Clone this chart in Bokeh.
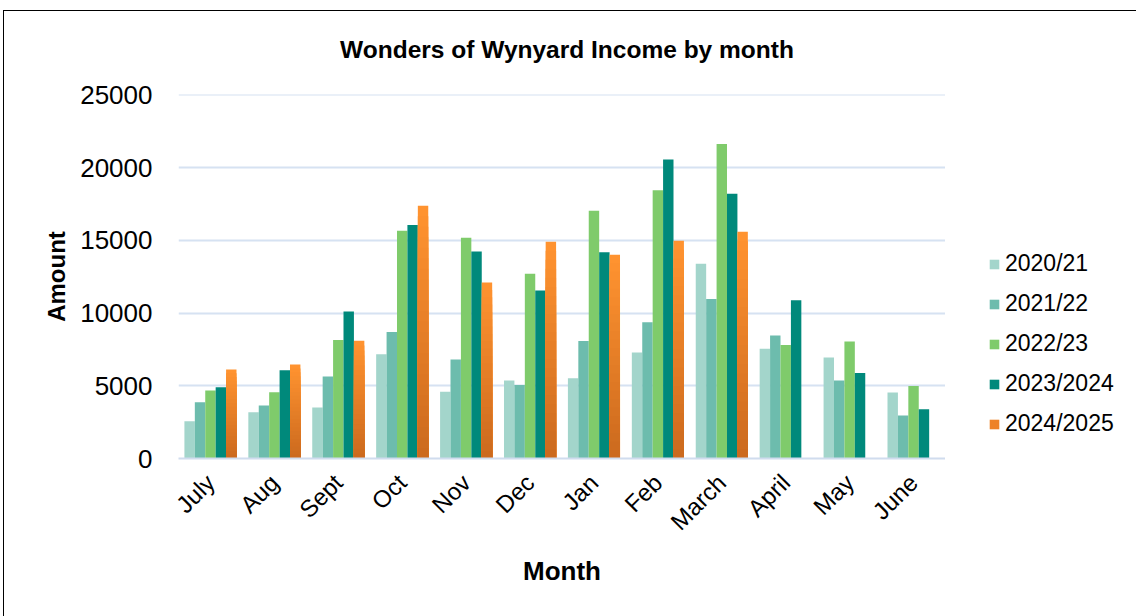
from bokeh.plotting import figure
from bokeh.models import (FactorRange, Range1d, ColumnDataSource, FixedTicker,
                          Legend, LegendItem)
from bokeh.layouts import column, row
from bokeh.transform import dodge
from bokeh.embed import file_html
from bokeh.resources import INLINE
from math import pi

months = ["July", "Aug", "Sept", "Oct", "Nov", "Dec", "Jan", "Feb", "March", "April", "May", "June"]
series_names = ["2020/21", "2021/22", "2022/23", "2023/2024", "2024/2025"]
s2020 = [2560, 3180, 3500, 7160, 4580, 5360, 5520, 7280, 13390, 7550, 6940, 4530]
s2021 = [3870, 3640, 5630, 8700, 6800, 5060, 8080, 9360, 10970, 8450, 5360, 2950]
s2022 = [4670, 4550, 8150, 15660, 15180, 12700, 17030, 18430, 21610, 7810, 8040, 4990]
s2023 = [4900, 6060, 10100, 16050, 14220, 11540, 14170, 20560, 18200, 10870, 5880, 3390]
s2024 = [6110, 6460, 8100, 17380, 12090, 14900, 14010, 14970, 15590, None, None, None]
y_ticks = [0, 5000, 10000, 15000, 20000, 25000]
title_text = "Wonders of Wynyard Income by month"

colors = ["#A3D5CB", "#6DBCAD", "#7FCB6B", "#00897B"]
orange_top = (255, 147, 48)
orange_bottom = (204, 106, 30)
orange_mid = "#EE8227"

FONT = "Liberation Sans"

# ---------- header with title ----------
header = figure(width=1133, height=63, output_backend="svg", toolbar_location=None,
                x_axis_type=None, y_axis_type=None, title=title_text,
                min_border_left=0, min_border_right=8, min_border_top=56, min_border_bottom=0)
header.outline_line_color = None
header.grid.visible = False
header.title.align = "center"
header.title.text_font = FONT
header.title.text_font_size = "24.5px"
header.title.text_font_style = "bold"
header.title.text_color = "#000000"
header.title.standoff = 10

# ---------- main chart ----------
p = figure(x_range=FactorRange(*months, range_padding=0), y_range=Range1d(0, 25020),
           width=941, height=543, output_backend="svg", toolbar_location=None,
           min_border_left=174, min_border_right=0, min_border_top=20, min_border_bottom=159)
p.outline_line_color = None
p.background_fill_color = "white"

bw = 0.163
offsets = [-2 * bw, -bw, 0, bw, 2 * bw]
sources = []
for i, vals in enumerate([s2020, s2021, s2022, s2023]):
    src = ColumnDataSource(dict(month=months, top=vals))
    sources.append(src)
    p.vbar(x=dodge("month", offsets[i], range=p.x_range), top="top", width=bw,
           source=src, fill_color=colors[i], line_color=None)

# 2024/2025 with vertical gradient (overlapping bands, proportional to each bar)
om = [m for m, v in zip(months, s2024) if v is not None]
ov = [v for v in s2024 if v is not None]
sources.append(ColumnDataSource(dict(month=om, top=ov)))
N = 24
for k in range(N):
    frac = 1 - k / N
    t = k / (N - 1)
    c = tuple(int(round(orange_top[j] + (orange_bottom[j] - orange_top[j]) * t)) for j in range(3))
    col = "#%02x%02x%02x" % c
    src = ColumnDataSource(dict(month=om, top=[v * frac for v in ov]))
    p.vbar(x=dodge("month", offsets[4], range=p.x_range), top="top", width=bw,
           source=src, fill_color=col, line_color=None)

p.yaxis.ticker = FixedTicker(ticks=y_ticks)
p.yaxis.axis_line_color = None
p.yaxis.major_tick_line_color = None
p.yaxis.minor_tick_line_color = None
p.yaxis.major_label_text_font = FONT
p.yaxis.major_label_text_font_size = "26px"
p.yaxis.major_label_text_color = "#000000"
p.yaxis.major_label_standoff = 20
p.yaxis.axis_label = "Amount"
p.yaxis.axis_label_text_font = FONT
p.yaxis.axis_label_text_font_size = "24px"
p.yaxis.axis_label_text_font_style = "bold"
p.yaxis.axis_label_text_color = "#000000"
p.yaxis.axis_label_standoff = 7

p.xaxis.axis_line_color = "#D0DCEE"
p.xaxis.axis_line_width = 2
p.xaxis.major_tick_line_color = None
p.xaxis.minor_tick_line_color = None
p.xaxis.major_label_orientation = pi / 4
p.xaxis.major_label_text_font = FONT
p.xaxis.major_label_text_font_size = "24px"
p.xaxis.major_label_text_color = "#000000"
p.xaxis.major_label_standoff = 14
p.xaxis.axis_label = "Month"
p.xaxis.axis_label_text_font = FONT
p.xaxis.axis_label_text_font_size = "26px"
p.xaxis.axis_label_text_font_style = "bold"
p.xaxis.axis_label_text_color = "#000000"
p.xaxis.axis_label_standoff = 8

p.xgrid.grid_line_color = None
p.ygrid.grid_line_color = "#D6E2F2"
p.ygrid.grid_line_width = 2

# ---------- legend panel (its frame aligns with the chart frame) ----------
lf = figure(width=192, height=543, output_backend="svg", toolbar_location=None,
            x_axis_type=None, y_axis_type=None,
            x_range=FactorRange(*months), y_range=Range1d(1e6, 1e6 + 1),
            min_border_left=0, min_border_right=0, min_border_top=0, min_border_bottom=0)
lf.outline_line_color = None
lf.grid.visible = False
leg_colors = colors + [orange_mid]
items = []
for name, col, src in zip(series_names, leg_colors, sources):
    # same data, far outside this panel's y range: only the legend swatch shows
    r = lf.vbar(x="month", top="top", width=0.001, source=src, fill_color=col, line_color=None)
    items.append(LegendItem(label=name, renderers=[r]))
legend = Legend(items=items, location=(43, 21), orientation="vertical",
                glyph_width=12, glyph_height=12, label_height=23, spacing=13,
                label_standoff=5, padding=0, margin=0,
                label_text_font=FONT, label_text_font_size="23px", label_text_color="#000000",
                border_line_color=None, background_fill_alpha=0)
lf.add_layout(legend, "center")

layout = column(header, row(p, lf, spacing=0), spacing=0,
                styles={"margin-left": "3px", "margin-top": "10px",
                        "border-left": "1px solid #000", "border-top": "1px solid #000"})

open("out.html", "w").write(file_html(layout, INLINE))
